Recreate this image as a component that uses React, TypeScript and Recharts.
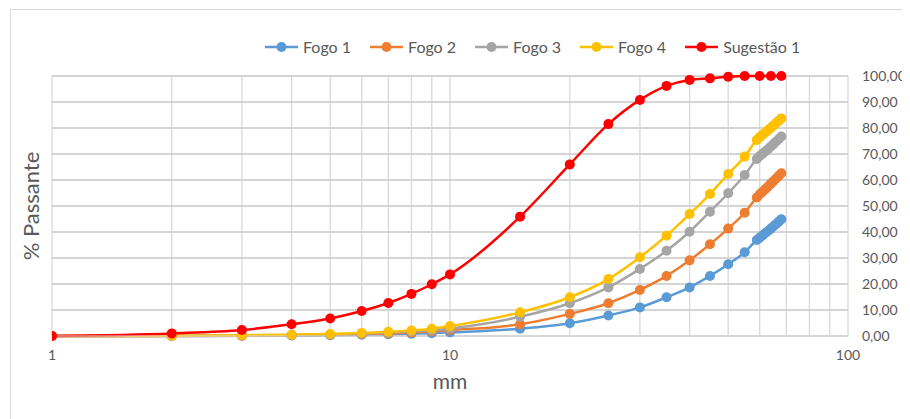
import React from "react";
import { LineChart, Line, XAxis, YAxis, CartesianGrid, Label, ReferenceLine } from "recharts";

// sieve sizes (mm) and % passing
const fogoSizes = [1, 2, 3, 4, 5, 6, 7, 8, 9, 10, 15, 20, 25, 30, 35, 40, 45, 50, 55, 59, 60, 61, 62, 63, 64, 65, 66, 67, 68];
const fogo1 = [0, 0, 0.1, 0.2, 0.3, 0.5, 0.7, 0.9, 1.1, 1.4, 2.8, 4.9, 7.9, 11.0, 14.9, 18.7, 23.1, 27.6, 32.2, 36.9, 37.8, 38.7, 39.6, 40.4, 41.3, 42.2, 43.1, 44.0, 44.9];
const fogo2 = [0, 0, 0.1, 0.3, 0.5, 0.7, 1.0, 1.3, 1.8, 2.3, 4.5, 8.5, 12.6, 17.7, 23.1, 29.1, 35.3, 41.3, 47.4, 53.3, 54.5, 55.5, 56.5, 57.5, 58.6, 59.6, 60.6, 61.6, 62.6];
const fogo3 = [0, 0.1, 0.2, 0.4, 0.6, 0.9, 1.3, 1.7, 2.2, 2.9, 7.4, 12.6, 18.7, 25.8, 32.8, 40.1, 47.8, 54.9, 61.9, 68.1, 69.2, 70.1, 71.0, 71.9, 72.9, 73.8, 74.8, 75.8, 76.7];
const fogo4 = [0, 0.1, 0.3, 0.5, 0.8, 1.2, 1.6, 2.1, 2.8, 3.8, 9.1, 14.9, 21.9, 30.3, 38.6, 46.9, 54.6, 62.3, 69.0, 75.4, 76.5, 77.4, 78.3, 79.2, 80.1, 81.0, 81.9, 82.8, 83.7];

const sugestaoSizes = [1, 2, 3, 4, 5, 6, 7, 8, 9, 10, 15, 20, 25, 30, 35, 40, 45, 50, 55, 60, 64, 68];
const sugestao1 = [0, 1.0, 2.3, 4.5, 6.7, 9.6, 12.7, 16.2, 19.9, 23.7, 45.9, 66.0, 81.5, 90.8, 96.2, 98.5, 99.1, 99.7, 100, 100, 100, 100];

const xTicks = [1, 2, 3, 4, 5, 6, 7, 8, 9, 10, 20, 30, 40, 50, 60, 70, 80, 90, 100];
const xLabels = [1, 10, 100];
const yTicks = [0, 10, 20, 30, 40, 50, 60, 70, 80, 90, 100];

const series = [
  { name: "Fogo 1", color: "#5B9BD5", sizes: fogoSizes, values: fogo1 },
  { name: "Fogo 2", color: "#ED7D31", sizes: fogoSizes, values: fogo2 },
  { name: "Fogo 3", color: "#A5A5A5", sizes: fogoSizes, values: fogo3 },
  { name: "Fogo 4", color: "#FFC000", sizes: fogoSizes, values: fogo4 },
  { name: "Sugestão 1", color: "#FF0000", sizes: sugestaoSizes, values: sugestao1 },
];

const FONT = "Lato, 'Liberation Sans', sans-serif";
const TEXT = "#595959";
const GRID = "#d9d9d9";

const LegendRow = () => (
  <div
    style={{
      position: "absolute",
      top: 27,
      left: 254,
      display: "flex",
      alignItems: "center",
      fontFamily: FONT,
      fontSize: 16,
      color: TEXT,
      gap: 19,
    }}
  >
    {series.map((s) => (
      <div key={s.name} style={{ display: "flex", alignItems: "center" }}>
        <svg width={33} height={12} style={{ marginRight: 5 }}>
          <line x1={0} y1={6} x2={33} y2={6} stroke={s.color} strokeWidth={2.5} />
          <circle cx={16.5} cy={6} r={5} fill={s.color} />
        </svg>
        <span>{s.name}</span>
      </div>
    ))}
  </div>
);

const App: React.FC = () => {
  return (
    <div
      style={{
        position: "relative",
        top: 1,
        left: 2,
        width: 894,
        height: 412,
        border: `1px solid ${GRID}`,
        background: "#fff",
      }}
    >
      <LegendRow />
      <div
        style={{
          position: "absolute",
          left: 19,
          top: 196,
          transform: "translate(-50%, -50%) rotate(-90deg)",
          whiteSpace: "nowrap",
          fontFamily: FONT,
          fontSize: 22,
          color: TEXT,
        }}
      >
        % Passante
      </div>
      <LineChart width={894} height={412} margin={{ top: 66, right: 7, left: 41, bottom: 56 }}>
        <CartesianGrid stroke={GRID} strokeWidth={1.3} />
        {/* horizontal gridlines every 10 % */}
        {yTicks.map((t) => (
          <ReferenceLine key={t} y={t} stroke="#d0d0d0" strokeWidth={1.5} ifOverflow="visible" />
        ))}
        <XAxis
          dataKey="x"
          type="number"
          scale="log"
          domain={[1, 100]}
          ticks={xTicks}
          allowDataOverflow
          axisLine={{ stroke: GRID }}
          tickLine={false}
          tickMargin={8}
          height={30}
          interval={0}
          tickFormatter={(v: number) => (xLabels.includes(v) ? String(v) : "")}
          tick={{ fill: TEXT, fontSize: 14, fontFamily: FONT }}
        >
          <Label value="mm" position="bottom" offset={8} style={{ fill: TEXT, fontSize: 21, fontFamily: FONT }} />
        </XAxis>
        <YAxis
          orientation="right"
          type="number"
          domain={[0, 100]}
          ticks={yTicks}
          interval={0}
          width={50}
          axisLine={false}
          tickLine={false}
          tickMargin={8}
          tickFormatter={(v: number) => v.toFixed(2).replace(".", ",")}
          tick={{ fill: TEXT, fontSize: 14, fontFamily: FONT }}
        />
        {series.map((s) => (
          <Line
            key={s.name}
            name={s.name}
            data={s.sizes.map((x, i) => ({ x, y: s.values[i] }))}
            dataKey="y"
            type="monotone"
            stroke={s.color}
            strokeWidth={2.5}
            dot={{ r: 5, fill: s.color, stroke: s.color, strokeWidth: 0 }}
            isAnimationActive={false}
          />
        ))}
      </LineChart>
    </div>
  );
};

export default App;
